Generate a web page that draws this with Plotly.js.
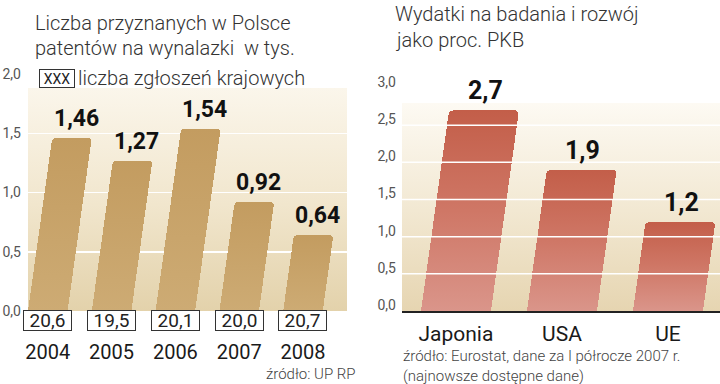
<!DOCTYPE html>
<html><head><meta charset="utf-8">
<script src="https://cdn.plot.ly/plotly-3.0.1.min.js"></script>
<style>html,body{margin:0;padding:0;background:#fff;}#chart{width:720px;height:384px;}</style>
</head><body><div id="chart"></div>
<script>
// ---- data ----
const years = ['2004', '2005', '2006', '2007', '2008'];
const patents = [1.46, 1.27, 1.54, 0.92, 0.64];            // tys. patentów
const applications = ['20,6', '19,5', '20,1', '20,0', '20,7']; // zgłoszenia krajowe
const regions = ['Japonia', 'USA', 'UE'];
const rdShare = [2.7, 1.9, 1.2];                            // % PKB
const leftTicks = [0, 0.5, 1, 1.5, 2];
const rightTicks = [0, 0.5, 1, 1.5, 2, 2.5, 3];

// ---- helpers / styles ----
const W = 720, H = 384;
const SKEW = 0.14;
const fmt = (v, d) => v.toFixed(d).replace('.', ',');
const px = v => v / W;
const py = v => 1 - v / H;
const G = { L: {x0: 28, x1: 347, yTop: 74, yBot: 311, max: 2}, R: {x0: 402, x1: 720, yTop: 88, yBot: 311, max: 3} };
const ppuL = (G.L.yBot - G.L.yTop) / G.L.max;
const ppuR = (G.R.yBot - G.R.yTop) / G.R.max;
const LIGHT = 'Roboto';
const BOLD = 'Roboto';

const data = [
  {type: 'bar', x: years, y: patents, xaxis: 'x', yaxis: 'y', width: 0.62,
   marker: {color: '#c9a468', cornerradius: 4}, hoverinfo: 'skip'},
  {type: 'bar', x: regions, y: rdShare, xaxis: 'x2', yaxis: 'y2', width: 0.66,
   marker: {color: '#cd7563', cornerradius: 5}, hoverinfo: 'skip'}
];

const annotations = [];
patents.forEach((v, i) => annotations.push({
  xref: 'x', yref: 'y', x: i, y: v, yanchor: 'bottom', xanchor: 'center',
  xshift: v * ppuL * SKEW + 4, yshift: 4, showarrow: false, text: '<b>' + fmt(v, 2) + '</b>',
  font: {family: BOLD, size: 23, color: '#111'}
}));
rdShare.forEach((v, i) => annotations.push({
  xref: 'x2', yref: 'y2', x: i, y: v, yanchor: 'bottom', xanchor: 'center',
  xshift: v * ppuR * SKEW + 1, yshift: 3, showarrow: false, text: '<b>' + fmt(v, 1) + '</b>',
  font: {family: BOLD, size: 25, color: '#111'}
}));
applications.forEach((t, i) => annotations.push({
  xref: 'x', yref: 'paper', x: i, y: py(320), yanchor: 'middle', xanchor: 'center',
  showarrow: false, text: t, width: 47, height: 19, borderpad: 0,
  bordercolor: '#333', borderwidth: 1, bgcolor: '#fff',
  font: {family: LIGHT, size: 19, color: '#222'}
}));
const txt = (x, y, text, size, anchor, color, yanchor) => ({
  xref: 'paper', yref: 'paper', x: px(x), y: py(y), xanchor: anchor || 'left', yanchor: yanchor || 'middle',
  showarrow: false, text: text, align: 'left', font: {family: LIGHT, size: size, color: color || '#333', weight: 300}
});
annotations.push(
  txt(33, 23, 'Liczba przyznanych w Polsce', 20),
  txt(33, 48, 'patentów na wynalazki  w tys.', 20),
  txt(76, 78, 'liczba zgłoszeń krajowych', 20),
  {xref: 'paper', yref: 'paper', x: px(57), y: py(79), xanchor: 'center', yanchor: 'middle',
   showarrow: false, text: 'XXX', width: 34, height: 17, borderpad: 0, bordercolor: '#333', borderwidth: 1,
   font: {family: LIGHT, size: 14, color: '#222'}},
  txt(358, 374, 'źródło: UP RP', 15, 'right', '#444'),
  txt(393, 14, 'Wydatki na badania i rozwój', 20),
  txt(393, 40, 'jako proc. PKB', 20),
  txt(401, 387, 'źródło: Eurostat, dane za I półrocze 2007 r.<br>(najnowsze dostępne dane)', 15, 'left', '#444', 'bottom')
);

const shapes = rightTicks.filter(v => v > 0 && v < 3).map(v => ({
  type: 'line', xref: 'x2 domain', yref: 'y2', x0: 0, x1: 1, y0: v, y1: v,
  line: {color: '#ffffff', width: 1.5}, layer: 'above'
}));

const layout = {
  width: W, height: H, margin: {l: 0, r: 0, t: 0, b: 0},
  paper_bgcolor: '#ffffff', plot_bgcolor: '#f1e6cc', showlegend: false,
  font: {family: LIGHT, color: '#333'},
  bargap: 0,
  xaxis: {domain: [px(G.L.x0), px(G.L.x1)], range: [-0.31, 4.69], type: 'category',
    showgrid: false, zeroline: false, showline: false, ticks: '', ticklabelstandoff: 27,
    tickfont: {family: LIGHT, size: 20, color: '#1a1a1a'}, fixedrange: true},
  yaxis: {domain: [py(G.L.yBot), py(G.L.yTop)], range: [0, G.L.max], tickvals: leftTicks,
    ticktext: leftTicks.map(v => fmt(v, 1)), showgrid: true, gridcolor: '#ffffff', gridwidth: 1.5,
    zeroline: false, ticks: '', ticklabelstandoff: 6,
    tickfont: {family: LIGHT, size: 14, color: '#555'}, fixedrange: true},
  xaxis2: {anchor: 'y2', domain: [px(G.R.x0), 1], range: [-0.509, 2.491], type: 'category',
    showgrid: false, zeroline: false, showline: true, linecolor: '#222', linewidth: 2, ticks: '',
    ticklabelstandoff: 3, tickfont: {family: LIGHT, size: 21, color: '#1a1a1a'}, fixedrange: true},
  yaxis2: {anchor: 'x2', domain: [py(G.R.yBot), py(G.R.yTop)], range: [0, G.R.max], tickvals: rightTicks,
    ticktext: rightTicks.map(v => fmt(v, 1)), showgrid: false, zeroline: false, ticks: '',
    ticklabelstandoff: 5, ticklabelshift: -6,
    tickfont: {family: LIGHT, size: 14, color: '#555'}, fixedrange: true},
  annotations: annotations, shapes: shapes
};

const gd = document.getElementById('chart');
Plotly.newPlot(gd, data, layout, {displayModeBar: false, staticPlot: true}).then(() => {
  try {
    const ns = 'http://www.w3.org/2000/svg';
    const svg = gd.querySelector('svg.main-svg');
    let defs = svg.querySelector('defs');
    if (!defs) { defs = document.createElementNS(ns, 'defs'); svg.insertBefore(defs, svg.firstChild); }
    const grad = (id, stops) => {
      const lg = document.createElementNS(ns, 'linearGradient');
      lg.setAttribute('id', id); lg.setAttribute('x1', '0'); lg.setAttribute('y1', '0');
      lg.setAttribute('x2', '0'); lg.setAttribute('y2', '1');
      stops.forEach(([o, c]) => {
        const s = document.createElementNS(ns, 'stop');
        s.setAttribute('offset', o); s.setAttribute('stop-color', c); lg.appendChild(s);
      });
      defs.appendChild(lg);
    };
    const wL = (88 - G.L.yTop) / (G.L.yBot - G.L.yTop);
    const wR = (103 - G.R.yTop) / (G.R.yBot - G.R.yTop);
    grad('bgL', [[0, '#ffffff'], [wL, '#ffffff'], [wL + 0.001, '#fbf6eb'], [0.55, '#f1e6cd'], [1, '#e3d2ab']]);
    grad('bgR', [[0, '#ffffff'], [wR, '#ffffff'], [wR + 0.001, '#fdfaf3'], [0.55, '#f2e8d2'], [1, '#e6d5b1']]);
    grad('barL', [[0, '#c39c60'], [1, '#cdab74']]);
    grad('barR', [[0, '#c35e49'], [0.5, '#cf7766'], [1, '#da958a']]);
    gd.querySelectorAll('.bglayer rect.bg').forEach(r => {
      const x = parseFloat(r.getAttribute('x'));
      r.style.fill = x < W / 2 ? 'url(#bgL)' : 'url(#bgR)';
    });
    // slant the bars produced by Plotly: keep the baseline, shift the top to the right
    const plots = gd._fullLayout._plots;
    [['xy', 'url(#barL)', 4], ['x2y2', 'url(#barR)', 5]].forEach(([id, fill, rad]) => {
      const sp = plots[id];
      const base = sp.yaxis._length;
      const sh = y => (base - y) * SKEW;
      sp.plot.node().querySelectorAll('.barlayer path').forEach(path => {
        const b = path.getBBox();
        if (!b || b.height <= 0) return;
        const x0 = b.x, x1 = b.x + b.width, yt = b.y, yb = b.y + b.height;
        const r = Math.min(rad, b.height / 2, b.width / 2);
        const f = n => n.toFixed(2);
        const d = 'M' + f(x0 + sh(yb)) + ',' + f(yb) +
          'L' + f(x0 + sh(yt + r)) + ',' + f(yt + r) +
          'Q' + f(x0 + sh(yt)) + ',' + f(yt) + ' ' + f(x0 + sh(yt) + r) + ',' + f(yt) +
          'L' + f(x1 + sh(yt) - r) + ',' + f(yt) +
          'Q' + f(x1 + sh(yt)) + ',' + f(yt) + ' ' + f(x1 + sh(yt + r)) + ',' + f(yt + r) +
          'L' + f(x1 + sh(yb)) + ',' + f(yb) + 'Z';
        path.setAttribute('d', d);
        path.style.fill = fill;
      });
    });
  } catch (e) { console.log(e); }
});
</script>
</body></html>
